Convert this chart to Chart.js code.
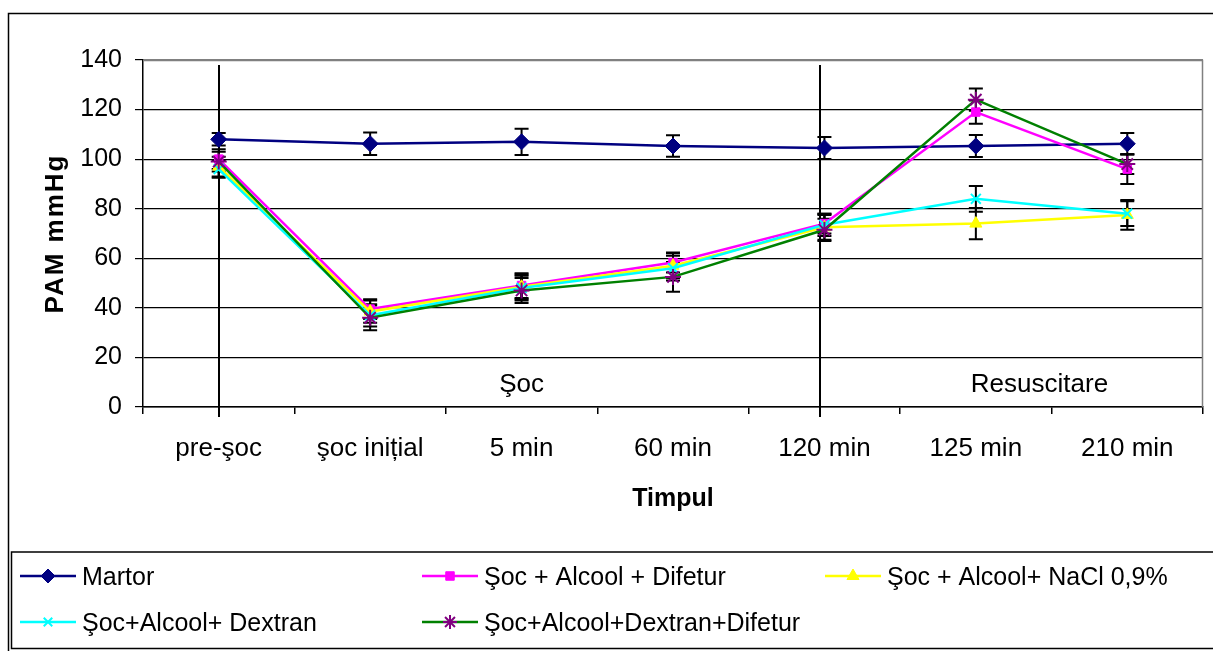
<!DOCTYPE html>
<html>
<head>
<meta charset="utf-8">
<script src="https://cdn.jsdelivr.net/npm/chart.js@4.4.1/dist/chart.umd.min.js"></script>
<style>
html,body{margin:0;padding:0;background:#fff;}
canvas{display:block;}
</style>
</head>
<body>
<canvas id="c" width="1213" height="651"></canvas>
<script>
// ---- data ----
const categories = ['pre-şoc', 'şoc inițial', '5 min', '60 min', '120 min', '125 min', '210 min'];
const yTicks = [0, 20, 40, 60, 80, 100, 120, 140];

const seriesNames = ['Martor', 'Şoc + Alcool + Difetur', 'Şoc + Alcool+ NaCl 0,9%', 'Şoc+Alcool+ Dextran', 'Şoc+Alcool+Dextran+Difetur'];

const martor      = [108, 106.2, 107, 105.3, 104.5, 105.3, 106.2];
const martorErr   = [2.5, 4.5, 5.3, 4.3, 4.4, 4.4, 4.3];

const difetur     = [100, 39.5, 49, 58.3, 74, 119, 96];
const difeturErr  = [4, 4, 5, 4, 4, 4.7, 6];

const nacl        = [97, 38.5, 48.5, 57, 72.5, 74, 77.5];
const naclErr     = [4, 4.5, 5, 5, 5, 6.3, 6];

const dextran     = [96, 37, 48, 56, 73.5, 84, 78];
const dextranErr  = [3.5, 4.5, 5, 5, 4.5, 5.2, 5];

const dexDif      = [99, 36, 47, 52.5, 71.5, 124, 98];
const dexDifErr   = [4, 5, 5, 6, 4.5, 4.5, 4];

const phaseLabels = ['Şoc', 'Resuscitare'];
const phaseLabelIndex = [2, 5.42];
const phaseLabelValue = [6.2, 6.2];
const separatorIndex = [0, 3.97];

const FONT = '"Liberation Sans", Arial, Helvetica, sans-serif';

const styles = [
  {line:'#000080', fill:'#000080', point:'rectRot', r:8, bw:1, lr:7},
  {line:'#FF00FF', fill:'#FF00FF', point:'rect', r:6, bw:1, lr:6},
  {line:'#FFFF00', fill:'#FFFF00', point:'triangle', r:7, bw:1, lr:7},
  {line:'#00FFFF', fill:'#00FFFF', point:'crossRot', r:7, bw:2, lr:6},
  {line:'#008000', fill:'#800080', point:'star', r:8, bw:2, lr:7}
];
const values = [martor, difetur, nacl, dextran, dexDif];
const errors = [martorErr, difeturErr, naclErr, dextranErr, dexDifErr];

const datasets = values.map((v, i) => ({
  label: seriesNames[i],
  data: v,
  borderColor: styles[i].line,
  backgroundColor: styles[i].fill,
  borderWidth: 2.5,
  pointStyle: styles[i].point,
  pointRadius: styles[i].r,
  pointHoverRadius: styles[i].r,
  pointBackgroundColor: styles[i].fill,
  pointBorderColor: i === 4 ? '#800080' : styles[i].fill,
  pointBorderWidth: styles[i].bw,
  tension: 0,
  fill: false,
  order: 4 - i,
  errs: errors[i]
}));

const decorPlugin = {
  id: 'decor',
  beforeDatasetsDraw(chart) {
    const ctx = chart.ctx, xs = chart.scales.x, ys = chart.scales.y;
    const area = chart.chartArea;
    ctx.save();
    // plot border top/right gray
    ctx.strokeStyle = '#808080';
    ctx.lineWidth = 1.5;
    ctx.beginPath();
    ctx.moveTo(area.left, area.top + 0.5);
    ctx.lineTo(area.right - 0.5, area.top + 0.5);
    ctx.lineTo(area.right - 0.5, area.bottom);
    ctx.stroke();
    // separators
    ctx.strokeStyle = '#000';
    ctx.lineWidth = 2;
    separatorIndex.forEach(ix => {
      const x = Math.round(xs.getPixelForValue(ix));
      ctx.beginPath();
      ctx.moveTo(x, area.top + 5);
      ctx.lineTo(x, area.bottom + 10);
      ctx.stroke();
    });
    // error bars
    ctx.lineWidth = 2;
    ctx.strokeStyle = '#000';
    chart.data.datasets.forEach(ds => {
      ds.data.forEach((v, j) => {
        const e = ds.errs[j];
        const x = xs.getPixelForValue(j);
        const y1 = ys.getPixelForValue(v + e);
        const y2 = ys.getPixelForValue(v - e);
        ctx.beginPath();
        ctx.moveTo(x, y1); ctx.lineTo(x, y2);
        ctx.moveTo(x - 7, y1); ctx.lineTo(x + 7, y1);
        ctx.moveTo(x - 7, y2); ctx.lineTo(x + 7, y2);
        ctx.stroke();
      });
    });
    // phase labels
    ctx.fillStyle = '#000';
    ctx.font = '26px ' + FONT;
    ctx.textAlign = 'center';
    ctx.textBaseline = 'alphabetic';
    phaseLabels.forEach((t, k) => {
      ctx.fillText(t, xs.getPixelForValue(phaseLabelIndex[k]), ys.getPixelForValue(phaseLabelValue[k]));
    });
    ctx.restore();
  },
  afterDraw(chart) {
    const ctx = chart.ctx, area = chart.chartArea;
    ctx.save();
    // outer frame
    ctx.strokeStyle = '#000';
    ctx.lineWidth = 1.5;
    ctx.strokeRect(8.5, 13.5, 1400, 1000);
    // axis titles
    ctx.fillStyle = '#000';
    ctx.font = 'bold 25px ' + FONT;
    ctx.textAlign = 'center';
    ctx.textBaseline = 'alphabetic';
    ctx.fillText('Timpul', (area.left + area.right) / 2, 506);
    ctx.save();
    ctx.translate(63, (area.top + area.bottom) / 2);
    ctx.rotate(-Math.PI / 2);
    ctx.font = 'bold 26px ' + FONT;
    try { ctx.letterSpacing = '2px'; } catch (e) {}
    ctx.fillText('PAM mmHg', 0, 0);
    ctx.restore();
    // legend box
    ctx.strokeStyle = '#000';
    ctx.lineWidth = 1.5;
    ctx.fillStyle = '#fff';
    ctx.beginPath();
    ctx.rect(11.5, 552, 1400, 96.5);
    ctx.fill();
    ctx.stroke();
    const cols = [20, 422, 825];
    const rows = [576, 622];
    const slots = [[0,0],[1,0],[2,0],[0,1],[1,1]];
    chart.data.datasets.forEach((ds, i) => {
      const x0 = cols[slots[i][0]], y0 = rows[slots[i][1]];
      ctx.strokeStyle = ds.borderColor;
      ctx.lineWidth = 2.5;
      ctx.beginPath();
      ctx.moveTo(x0, y0); ctx.lineTo(x0 + 56, y0);
      ctx.stroke();
      const opts = {
        pointStyle: ds.pointStyle,
        radius: styles[i].lr,
        rotation: 0,
        borderWidth: ds.pointBorderWidth
      };
      ctx.fillStyle = ds.pointBackgroundColor;
      ctx.strokeStyle = ds.pointBorderColor;
      ctx.lineWidth = ds.pointBorderWidth;
      if (Chart.helpers && Chart.helpers.drawPoint) {
        Chart.helpers.drawPoint(ctx, opts, x0 + 28, y0);
      }
      ctx.fillStyle = '#000';
      ctx.font = '25px ' + FONT;
      ctx.textAlign = 'left';
      ctx.textBaseline = 'alphabetic';
      ctx.fillText(ds.label, x0 + 62, y0 + 9);
    });
    ctx.restore();
  }
};

new Chart(document.getElementById('c'), {
  type: 'line',
  data: { labels: categories, datasets },
  options: {
    responsive: false,
    animation: false,
    devicePixelRatio: 1,
    layout: { padding: { top: 60, right: 4, left: 0, bottom: 0 } },
    plugins: { legend: { display: false }, tooltip: { enabled: false } },
    scales: {
      x: {
        type: 'category',
        offset: true,
        afterFit(s) { s.height = 244; },
        grid: { offset: true, drawOnChartArea: false, drawTicks: true, tickLength: 7, color: '#000', lineWidth: 1.5 },
        border: { display: true, color: '#000', width: 1.5 },
        ticks: { color: '#000', font: { family: FONT, size: 26 }, padding: 19, maxRotation: 0, autoSkip: false }
      },
      y: {
        min: 0, max: 140,
        afterFit(s) { s.width = 143; },
        afterBuildTicks(s) { s.ticks = yTicks.map(v => ({ value: v })); },
        grid: {
          color: c => (c.tick && c.tick.value === 140) ? '#808080' : '#000',
          tickColor: '#000',
          lineWidth: 1.2,
          tickLength: 8
        },
        border: { display: true, color: '#000', width: 1.5 },
        ticks: { color: '#000', font: { family: FONT, size: 25 }, padding: 13 }
      }
    }
  },
  plugins: [decorPlugin]
});
</script>
</body>
</html>
